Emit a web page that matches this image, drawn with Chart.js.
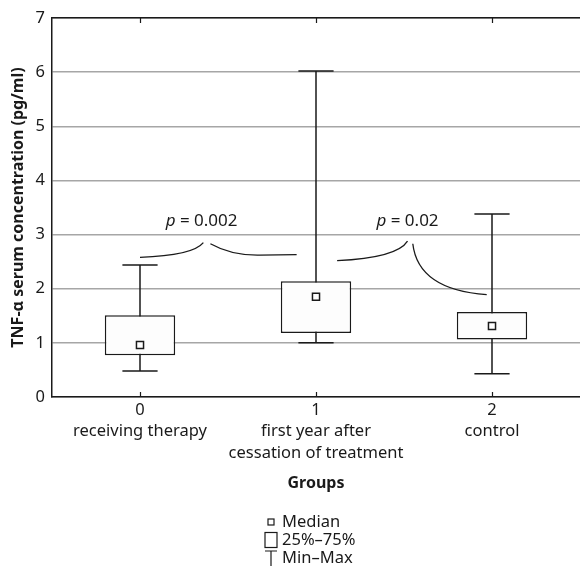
<!DOCTYPE html>
<html>
<head>
<meta charset="utf-8">
<script src="https://cdn.jsdelivr.net/npm/chart.js@4/dist/chart.umd.min.js"></script>
<style>
  body { margin: 0; background: #fff; }
  #wrap { width: 580px; height: 569px; }
</style>
</head>
<body>
<div id="wrap"><canvas id="box-chart" width="580" height="569"></canvas></div>
<script>
// groups on the x axis
const groupLabels = [
    ['0', 'receiving therapy'],
    ['1', 'first year after', 'cessation of treatment'],
    ['2', 'control']
];
// values (pg/ml)
const minValues = [0.48, 1.00, 0.43];
const q1Values = [0.77, 1.18, 1.06];
const medianValues = [0.96, 1.85, 1.31];
const q3Values = [1.51, 2.14, 1.57];
const maxValues = [2.44, 6.02, 3.38];
const yTicks = [0, 1, 2, 3, 4, 5, 6, 7];

// p-value braces, in data units (x = group index, y = pg/ml)
const pLabels = [
    { text: '0.002', x: 0.35, y: 3.24 },
    { text: '0.02', x: 1.52, y: 3.24 }
];
// each curve: start, control, end (+ optional straight end)
const braceCurves = [
    [[0.0, 2.58], [0.30, 2.61], [0.36, 2.85]],
    [[0.40, 2.83], [0.52, 2.61], [0.68, 2.62], [0.89, 2.63]],
    [[1.12, 2.52], [1.46, 2.57], [1.52, 2.88]],
    [[1.55, 2.83], [1.58, 1.98], [1.97, 1.89]]
];

const legendItems = ['Median', '25%\u201375%', 'Min\u2013Max'];

const FONT = "'Noto Sans', sans-serif";
const INK = '#1a1a1a';

const boxData = q1Values.map((q, i) => [q, q3Values[i]]);

// whiskers behind the boxes, plus the small inward x ticks
const whiskerPlugin = {
    id: 'whiskers',
    beforeDatasetsDraw(chart) {
        const { ctx, chartArea, scales: { x, y } } = chart;
        ctx.save();
        ctx.strokeStyle = INK;
        ctx.lineWidth = 1.5;
        minValues.forEach((mn, i) => {
            const cx = x.getPixelForValue(i);
            const half = x.width / groupLabels.length * 0.1;
            const yMin = y.getPixelForValue(mn);
            const yMax = y.getPixelForValue(maxValues[i]);
            ctx.beginPath();
            ctx.moveTo(cx, yMin);
            ctx.lineTo(cx, yMax);
            ctx.moveTo(cx - half, yMin);
            ctx.lineTo(cx + half, yMin);
            ctx.moveTo(cx - half, yMax);
            ctx.lineTo(cx + half, yMax);
            ctx.stroke();
        });
        ctx.lineWidth = 1.2;
        groupLabels.forEach((g, i) => {
            const tx = Math.round(x.getPixelForValue(i)) + 0.5;
            ctx.beginPath();
            ctx.moveTo(tx, chartArea.bottom);
            ctx.lineTo(tx, chartArea.bottom - 5);
            ctx.moveTo(tx, chartArea.top);
            ctx.lineTo(tx, chartArea.top + 5);
            ctx.stroke();
        });
        ctx.restore();
    }
};

// p-value annotations and the legend
const notesPlugin = {
    id: 'notes',
    afterDraw(chart) {
        const { ctx, scales: { x, y } } = chart;
        ctx.save();
        ctx.strokeStyle = INK;
        ctx.lineWidth = 1.3;
        braceCurves.forEach(c => {
            const p = c.map(pt => [x.getPixelForValue(pt[0]), y.getPixelForValue(pt[1])]);
            ctx.beginPath();
            ctx.moveTo(p[0][0], p[0][1]);
            ctx.quadraticCurveTo(p[1][0], p[1][1], p[2][0], p[2][1]);
            if (p[3]) ctx.lineTo(p[3][0], p[3][1]);
            ctx.stroke();
        });

        ctx.fillStyle = INK;
        ctx.textBaseline = 'middle';
        pLabels.forEach(l => {
            const px = x.getPixelForValue(l.x);
            const py = y.getPixelForValue(l.y);
            ctx.font = 'italic 17px ' + FONT;
            const pw = ctx.measureText('p').width;
            ctx.font = '17px ' + FONT;
            const rest = ' = ' + l.text;
            const rw = ctx.measureText(rest).width;
            const left = px - (pw + rw) / 2;
            ctx.textAlign = 'left';
            ctx.font = 'italic 17px ' + FONT;
            ctx.fillText('p', left, py);
            ctx.font = '17px ' + FONT;
            ctx.fillText(rest, left + pw, py);
        });

        // legend block under the axis title
        const cx = x.getPixelForValue(1);
        const iconX = cx - 45;
        const textX = cx - 34;
        const rowY = [522, 540, 558];
        ctx.font = '16.5px ' + FONT;
        ctx.textAlign = 'left';
        ctx.lineWidth = 1.2;
        legendItems.forEach((t, i) => {
            ctx.fillText(t, textX, rowY[i]);
        });
        ctx.strokeRect(iconX - 3, rowY[0] - 3, 6, 6);
        ctx.strokeRect(iconX - 6, rowY[1] - 7.5, 12, 15);
        ctx.beginPath();
        ctx.moveTo(iconX - 6, rowY[2] - 7);
        ctx.lineTo(iconX + 6, rowY[2] - 7);
        ctx.moveTo(iconX, rowY[2] - 7);
        ctx.lineTo(iconX, rowY[2] + 8);
        ctx.stroke();
        ctx.restore();
    }
};

new Chart(document.getElementById('box-chart'), {
    type: 'bar',
    data: {
        labels: groupLabels,
        datasets: [
            {
                type: 'line',
                label: 'Median',
                data: medianValues,
                showLine: false,
                pointStyle: 'rect',
                pointRadius: 5,
                pointBorderWidth: 1.5,
                pointBackgroundColor: '#fff',
                pointBorderColor: INK,
                order: 0
            },
            {
                label: '25%\u201375%',
                data: boxData,
                backgroundColor: '#fdfdfd',
                borderColor: INK,
                borderWidth: 1.5,
                borderSkipped: false,
                categoryPercentage: 1,
                barPercentage: 0.4,
                order: 1
            }
        ]
    },
    options: {
        responsive: false,
        animation: false,
        layout: { autoPadding: false, padding: { top: 18, right: 0, bottom: 70, left: 0 } },
        plugins: {
            legend: { display: false },
            tooltip: { enabled: false }
        },
        scales: {
            x: {
                position: 'bottom',
                afterFit: s => { s.height = 102; s.paddingLeft = 0; s.paddingRight = 0; },
                grid: { offset: false, drawOnChartArea: false, drawTicks: false },
                border: { color: INK, width: 1.5 },
                ticks: {
                    color: INK,
                    padding: 3,
                    maxRotation: 0,
                    autoSkip: false,
                    font: { family: FONT, size: 16.5, lineHeight: 1.28 }
                },
                title: {
                    display: true,
                    text: 'Groups',
                    color: INK,
                    font: { family: FONT, size: 16, weight: 'bold' },
                    padding: { top: 0, bottom: 6 }
                }
            },
            xTop: {
                position: 'top',
                type: 'category',
                afterFit: s => { s.height = 0; s.paddingLeft = 0; s.paddingRight = 0; },
                grid: { offset: false, drawOnChartArea: false, drawTicks: false },
                border: { color: INK, width: 1.5 },
                ticks: { display: false }
            },
            y: {
                min: 0,
                max: 7,
                afterBuildTicks: s => { s.ticks = yTicks.map(v => ({ value: v })); },
                afterFit: s => { s.width = 52; },
                grid: { color: '#a6a6a6', lineWidth: 1.5, drawTicks: false },
                border: { color: INK, width: 1.5 },
                ticks: {
                    color: INK,
                    padding: 7,
                    font: { family: FONT, size: 16.5 }
                },
                title: {
                    display: true,
                    text: 'TNF-\u03b1 serum concentration (pg/ml)',
                    color: INK,
                    font: { family: FONT, size: 16, weight: 'bold' },
                    padding: { top: 9, bottom: 0 }
                }
            }
        }
    },
    plugins: [whiskerPlugin, notesPlugin]
});
</script>
</body>
</html>
